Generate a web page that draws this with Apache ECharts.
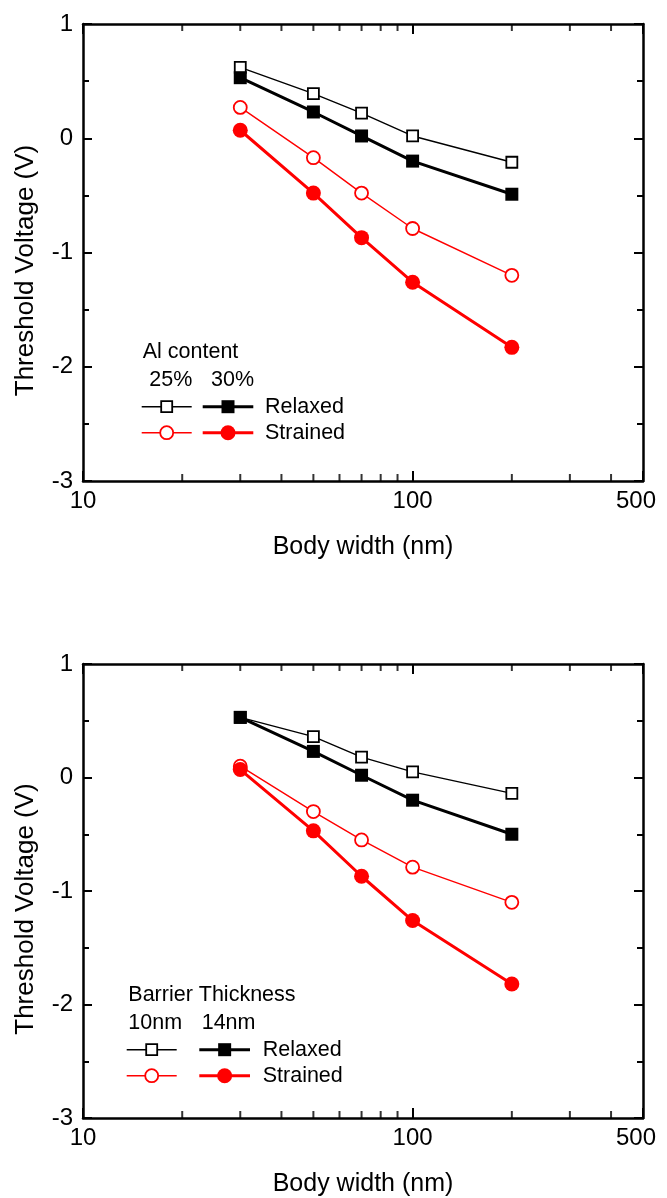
<!DOCTYPE html>
<html><head><meta charset="utf-8">
<script src="https://cdn.jsdelivr.net/npm/echarts@6/dist/echarts.min.js"></script>
<style>html,body{margin:0;padding:0;background:#fff}#c{width:667px;height:1198px}</style>
</head><body><div id="c"></div><script>
// ---- data ----
const xValues = [30, 50, 70, 100, 200];           // Body width (nm)
const xTickMinor = [20, 30, 40, 50, 60, 70, 80, 90, 200, 300, 400];
const yTicks = [-3, -2, -1, 0, 1];
// Panel A: Al content
const aRelaxed25 = [0.62, 0.39, 0.22, 0.02, -0.21];
const aRelaxed30 = [0.53, 0.23, 0.02, -0.20, -0.49];
const aStrained25 = [0.27, -0.17, -0.48, -0.79, -1.20];
const aStrained30 = [0.07, -0.48, -0.87, -1.26, -1.83];
// Panel B: Barrier thickness
const bRelaxed10 = [0.53, 0.36, 0.18, 0.05, -0.14];
const bRelaxed14 = [0.53, 0.23, 0.02, -0.20, -0.50];
const bStrained10 = [0.10, -0.30, -0.55, -0.79, -1.10];
const bStrained14 = [0.07, -0.47, -0.87, -1.26, -1.82];
const legendTitles = ['Al content', 'Barrier Thickness'];
const legendCols = [['25%', '30%'], ['10nm', '14nm']];
const legendRows = ['Relaxed', 'Strained'];
const xTitle = 'Body width (nm)';
const yTitle = 'Threshold Voltage (V)';

// ---- styling ----
const FONT = '"Liberation Sans", Arial, sans-serif';
const BLACK = '#000000', RED = '#ff0000';
const chart = echarts.init(document.getElementById('c'), null, {renderer: 'canvas'});

const grids = [
  {left: 83, top: 24, width: 560, height: 457},
  {left: 83, top: 664, width: 560, height: 457}
];
const xAxes = [], yAxes = [], series = [];
const axisLine = {show: true, onZero: false, lineStyle: {color: BLACK, width: 2.5}};

function pair(arr) { return xValues.map((x, i) => [x, arr[i]]); }

[[aRelaxed25, aRelaxed30, aStrained25, aStrained30],
 [bRelaxed10, bRelaxed14, bStrained10, bStrained14]].forEach((d, g) => {
  const xi = xAxes.length, yi = yAxes.length;
  xAxes.push({
    gridIndex: g, type: 'log', logBase: 10, min: 10, max: 500, position: 'bottom',
    name: xTitle, nameLocation: 'middle', nameGap: 54,
    nameTextStyle: {fontSize: 25, color: BLACK, fontFamily: FONT},
    axisLine: axisLine,
    axisTick: {show: true, inside: true, length: 10, lineStyle: {color: BLACK, width: 2}},
    axisLabel: {
      margin: 8, color: BLACK, fontSize: 24, fontFamily: FONT,
      formatter: v => Math.round(v) === 500 ? '{r|500}' : String(Math.round(v)),
      rich: {r: {fontSize: 24, fontFamily: FONT, color: BLACK, padding: [0, 14, 0, 0]}}
    },
    splitLine: {show: false}
  });
  xAxes.push({
    gridIndex: g, type: 'log', logBase: 10, min: 10, max: 500, position: 'top',
    axisLine: axisLine,
    axisTick: {show: true, inside: true, length: 10, lineStyle: {color: BLACK, width: 2}},
    axisLabel: {show: false}, splitLine: {show: false}
  });
  yAxes.push({
    gridIndex: g, type: 'value', min: yTicks[0], max: yTicks[yTicks.length - 1], interval: 1, position: 'left',
    name: yTitle, nameLocation: 'middle', nameGap: 44, nameRotate: 90,
    nameTextStyle: {fontSize: 26, color: BLACK, fontFamily: FONT, padding: [0, 36, 0, 0]},
    axisLine: axisLine,
    axisTick: {show: true, inside: true, length: 9, lineStyle: {color: BLACK, width: 2}},
    minorTick: {show: true, splitNumber: 2, length: 6, lineStyle: {color: BLACK, width: 2}},
    axisLabel: {margin: 10, color: BLACK, fontSize: 24, fontFamily: FONT},
    splitLine: {show: false}
  });
  yAxes.push({
    gridIndex: g, type: 'value', min: yTicks[0], max: yTicks[yTicks.length - 1], interval: 1, position: 'right',
    axisLine: axisLine,
    axisTick: {show: true, inside: true, length: 9, lineStyle: {color: BLACK, width: 2}},
    minorTick: {show: true, splitNumber: 2, length: 6, lineStyle: {color: BLACK, width: 2}},
    axisLabel: {show: false}, splitLine: {show: false}
  });
  const base = {type: 'line', xAxisIndex: xi, yAxisIndex: yi, animation: false, clip: false, z: 3};
  series.push(Object.assign({}, base, {
    name: legendRows[0] + ' ' + legendCols[g][0], data: pair(d[0]),
    symbol: 'rect', symbolSize: 11, lineStyle: {color: BLACK, width: 1.4},
    itemStyle: {color: '#fff', borderColor: BLACK, borderWidth: 1.8}
  }));
  series.push(Object.assign({}, base, {
    name: legendRows[1] + ' ' + legendCols[g][0], data: pair(d[2]),
    symbol: 'circle', symbolSize: 13, lineStyle: {color: RED, width: 1.4},
    itemStyle: {color: '#fff', borderColor: RED, borderWidth: 1.8}
  }));
  series.push(Object.assign({}, base, {
    name: legendRows[0] + ' ' + legendCols[g][1], data: pair(d[1]), z: 4,
    symbol: 'rect', symbolSize: 13, lineStyle: {color: BLACK, width: 3},
    itemStyle: {color: BLACK, borderWidth: 0}
  }));
  series.push(Object.assign({}, base, {
    name: legendRows[1] + ' ' + legendCols[g][1], data: pair(d[3]), z: 4,
    symbol: 'circle', symbolSize: 15, lineStyle: {color: RED, width: 3},
    itemStyle: {color: RED, borderWidth: 0}
  }));
  // minor ticks of the log axis (bottom and top), positioned via the axis scale
  series.push({
    type: 'scatter', xAxisIndex: xi, yAxisIndex: yi, silent: true, animation: false, clip: false, z: 5,
    symbol: 'rect', symbolSize: [2, 7], symbolOffset: [0, -3.5], itemStyle: {color: BLACK},
    data: xTickMinor.map(v => [v, yTicks[0]])
  });
  series.push({
    type: 'scatter', xAxisIndex: xi, yAxisIndex: yi, silent: true, animation: false, clip: false, z: 5,
    symbol: 'rect', symbolSize: [2, 7], symbolOffset: [0, 3.5], itemStyle: {color: BLACK},
    data: xTickMinor.map(v => [v, yTicks[yTicks.length - 1]])
  });
});

// ---- legends (drawn as graphics) ----
const LFONT = '21.5px ' + FONT;
function legend(g, L) {
  const els = [];
  const txt = (t, x, y) => ({type: 'text', x: x, y: y, z: 10,
    style: {text: t, font: LFONT, fill: BLACK, verticalAlign: 'middle', align: 'left'}});
  els.push(txt(legendTitles[g], L.tx, L.ty));
  els.push(txt(legendCols[g][0], L.c0, L.cy));
  els.push(txt(legendCols[g][1], L.c1, L.cy));
  const rows = [L.r0, L.r0 + 26];
  rows.forEach((ry, r) => {
    const col = r === 0 ? BLACK : RED;
    els.push({type: 'line', z: 10, shape: {x1: L.a0, y1: ry, x2: L.a1, y2: ry}, style: {stroke: col, lineWidth: 1.4}});
    els.push({type: 'line', z: 10, shape: {x1: L.b0, y1: ry, x2: L.b1, y2: ry}, style: {stroke: col, lineWidth: 3}});
    const ac = (L.a0 + L.a1) / 2, bc = (L.b0 + L.b1) / 2;
    if (r === 0) {
      els.push({type: 'rect', z: 11, shape: {x: ac - 5.5, y: ry - 5.5, width: 11, height: 11}, style: {fill: '#fff', stroke: BLACK, lineWidth: 1.8}});
      els.push({type: 'rect', z: 11, shape: {x: bc - 6.5, y: ry - 6.5, width: 13, height: 13}, style: {fill: BLACK}});
    } else {
      els.push({type: 'circle', z: 11, shape: {cx: ac, cy: ry, r: 6.5}, style: {fill: '#fff', stroke: RED, lineWidth: 1.8}});
      els.push({type: 'circle', z: 11, shape: {cx: bc, cy: ry, r: 7.5}, style: {fill: RED}});
    }
    els.push(txt(legendRows[r], L.t, ry));
  });
  return els;
}
const graphic = [].concat(
  legend(0, {tx: 142.7, ty: 352, c0: 149.3, c1: 211, cy: 380, r0: 406.7, a0: 141.7, a1: 191.7, b0: 202.7, b1: 253.3, t: 265}),
  legend(1, {tx: 128.3, ty: 995, c0: 128.3, c1: 201.7, cy: 1023.3, r0: 1049.7, a0: 126.7, a1: 176.7, b0: 199.3, b1: 250, t: 262.7})
);

chart.setOption({
  backgroundColor: '#fff',
  animation: false,
  textStyle: {fontFamily: FONT},
  grid: grids,
  xAxis: xAxes,
  yAxis: yAxes,
  series: series,
  graphic: graphic
});
</script></body></html>
